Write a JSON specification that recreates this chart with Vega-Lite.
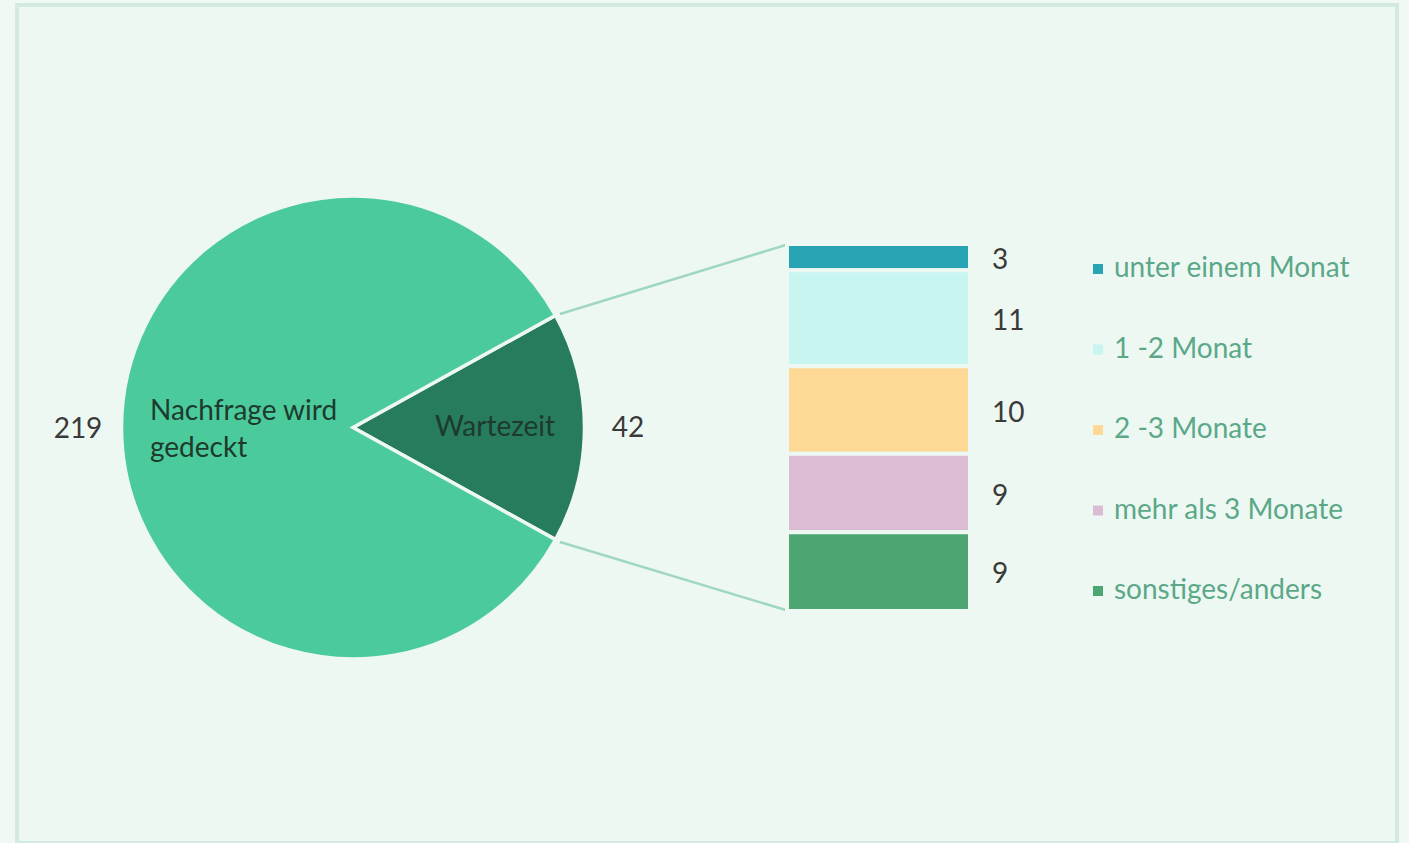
{
  "$schema": "https://vega.github.io/schema/vega-lite/v6.json",
  "width": 1380,
  "height": 838,
  "autosize": {"type": "none"},
  "padding": {"left": 17, "top": 5, "right": 12, "bottom": 0},
  "background": "#f1f9f5",
  "datasets": {
    "gesamt": [
      {"gruppe": "Gesamt", "kategorie": "Wartezeit", "beschriftung": "Wartezeit", "anzahl": 42, "nr": 1},
      {"gruppe": "Gesamt", "kategorie": "Nachfrage wird gedeckt", "beschriftung": "Nachfrage wird\ngedeckt", "anzahl": 219, "nr": 2}
    ],
    "wartezeit": [
      {"gruppe": "Wartezeit", "dauer": "unter einem Monat", "anzahl": 3, "nr": 1},
      {"gruppe": "Wartezeit", "dauer": "1 -2 Monat", "anzahl": 11, "nr": 2},
      {"gruppe": "Wartezeit", "dauer": "2 -3 Monate", "anzahl": 10, "nr": 3},
      {"gruppe": "Wartezeit", "dauer": "mehr als 3 Monate", "anzahl": 9, "nr": 4},
      {"gruppe": "Wartezeit", "dauer": "sonstiges/anders", "anzahl": 9, "nr": 5}
    ]
  },
  "layer": [
    {
      "data": {"name": "gesamt"},
      "transform": [{"filter": "datum.kategorie === 'Wartezeit'"}],
      "mark": {"type": "rule", "color": "#a0d7bf", "strokeWidth": 2.5, "xOffset": 207, "x2Offset": -89.5, "yOffset": -113.5},
      "encoding": {
        "x": {"field": "gruppe", "type": "nominal", "scale": {"type": "point", "domain": ["Gesamt", "Wartezeit"], "range": [336, 861.5], "padding": 0}, "axis": null},
        "x2": {"datum": "Wartezeit"},
        "y": {"datum": 21, "type": "quantitative", "scale": {"domain": [0, 42], "range": [606, 239], "nice": false, "zero": false}, "axis": null},
        "y2": {"datum": 42}
      }
    },
    {
      "data": {"name": "gesamt"},
      "transform": [{"filter": "datum.kategorie === 'Wartezeit'"}],
      "mark": {"type": "rule", "color": "#a0d7bf", "strokeWidth": 2.5, "xOffset": 207, "x2Offset": -89.5, "yOffset": 114.5},
      "encoding": {
        "x": {"field": "gruppe", "type": "nominal", "scale": {"type": "point", "domain": ["Gesamt", "Wartezeit"], "range": [336, 861.5], "padding": 0}, "axis": null},
        "x2": {"datum": "Wartezeit"},
        "y": {"datum": 21, "type": "quantitative", "scale": {"domain": [0, 42], "range": [606, 239], "nice": false, "zero": false}, "axis": null},
        "y2": {"datum": 0}
      }
    },
    {
      "data": {"name": "gesamt"},
      "mark": {"type": "arc", "outerRadius": 231.5, "stroke": "#eef8f2", "strokeWidth": 3.5},
      "encoding": {
        "x": {"field": "gruppe", "type": "nominal", "scale": {"type": "point", "domain": ["Gesamt", "Wartezeit"], "range": [336, 861.5], "padding": 0}, "axis": null},
        "y": {"datum": 21, "type": "quantitative", "scale": {"domain": [0, 42], "range": [606, 239], "nice": false, "zero": false}, "axis": null},
        "theta": {"field": "anzahl", "type": "quantitative", "stack": true, "scale": {"range": [1.06525, 7.34844], "nice": false, "zero": true}},
        "order": {"field": "nr", "type": "quantitative", "sort": "ascending"},
        "color": {"field": "kategorie", "type": "nominal", "scale": {"domain": ["Nachfrage wird gedeckt", "Wartezeit"], "range": ["#4bca9c", "#267c5c"]}, "legend": null}
      }
    },
    {
      "data": {"name": "gesamt"},
      "mark": {"type": "text", "radius": 275, "fontSize": 28, "font": "Lato", "color": "#3a3a3a", "align": "center", "baseline": "middle", "dy": 2},
      "encoding": {
        "x": {"field": "gruppe", "type": "nominal", "scale": {"type": "point", "domain": ["Gesamt", "Wartezeit"], "range": [336, 861.5], "padding": 0}, "axis": null},
        "y": {"datum": 21, "type": "quantitative", "scale": {"domain": [0, 42], "range": [606, 239], "nice": false, "zero": false}, "axis": null},
        "theta": {"field": "anzahl", "type": "quantitative", "stack": true, "scale": {"range": [1.06525, 7.34844], "nice": false, "zero": true}},
        "order": {"field": "nr", "type": "quantitative", "sort": "ascending"},
        "detail": {"field": "kategorie", "type": "nominal"},
        "text": {"field": "anzahl", "type": "quantitative"}
      }
    },
    {
      "data": {"name": "gesamt"},
      "mark": {"type": "text", "radius": 142, "fontSize": 28, "font": "Lato", "color": "#1d3a2d", "align": "center", "baseline": "middle", "dy": 1},
      "encoding": {
        "x": {"field": "gruppe", "type": "nominal", "scale": {"type": "point", "domain": ["Gesamt", "Wartezeit"], "range": [336, 861.5], "padding": 0}, "axis": null},
        "y": {"datum": 21, "type": "quantitative", "scale": {"domain": [0, 42], "range": [606, 239], "nice": false, "zero": false}, "axis": null},
        "theta": {"field": "anzahl", "type": "quantitative", "stack": true, "scale": {"range": [1.06525, 7.34844], "nice": false, "zero": true}},
        "order": {"field": "nr", "type": "quantitative", "sort": "ascending"},
        "detail": {"field": "kategorie", "type": "nominal"},
        "text": {"condition": {"test": "datum.kategorie === 'Wartezeit'", "field": "beschriftung"}, "value": ""}
      }
    },
    {
      "data": {"name": "gesamt"},
      "mark": {"type": "text", "radius": 203, "fontSize": 28, "font": "Lato", "color": "#1d3a2d", "align": "left", "baseline": "middle", "lineBreak": "\n", "lineHeight": 37, "dy": -16},
      "encoding": {
        "x": {"field": "gruppe", "type": "nominal", "scale": {"type": "point", "domain": ["Gesamt", "Wartezeit"], "range": [336, 861.5], "padding": 0}, "axis": null},
        "y": {"datum": 21, "type": "quantitative", "scale": {"domain": [0, 42], "range": [606, 239], "nice": false, "zero": false}, "axis": null},
        "theta": {"field": "anzahl", "type": "quantitative", "stack": true, "scale": {"range": [1.06525, 7.34844], "nice": false, "zero": true}},
        "order": {"field": "nr", "type": "quantitative", "sort": "ascending"},
        "detail": {"field": "kategorie", "type": "nominal"},
        "text": {"condition": {"test": "datum.kategorie === 'Nachfrage wird gedeckt'", "field": "beschriftung"}, "value": ""}
      }
    },
    {
      "data": {"name": "wartezeit"},
      "mark": {"type": "bar", "width": 183, "stroke": "#eef8f2", "strokeWidth": 4},
      "encoding": {
        "x": {"field": "gruppe", "type": "nominal", "scale": {"type": "point", "domain": ["Gesamt", "Wartezeit"], "range": [336, 861.5], "padding": 0}, "axis": null},
        "y": {"field": "anzahl", "type": "quantitative", "stack": "zero", "scale": {"domain": [0, 42], "range": [606, 239], "nice": false, "zero": false}, "axis": null},
        "order": {"field": "nr", "type": "quantitative", "sort": "descending"},
        "color": {
          "field": "dauer",
          "type": "nominal",
          "scale": {
            "domain": ["unter einem Monat", "1 -2 Monat", "2 -3 Monate", "mehr als 3 Monate", "sonstiges/anders"],
            "range": ["#28a4b4", "#c8f5f0", "#fdd995", "#dcbcd5", "#4da672"]
          },
          "legend": {
            "orient": "none",
            "legendX": 1067,
            "legendY": 250,
            "title": null,
            "padding": 0,
            "symbolType": "square",
            "symbolSize": 100,
            "symbolStrokeWidth": 0,
            "symbolOffset": 0,
            "labelFont": "Lato",
            "labelFontSize": 28,
            "labelColor": "#5ba888",
            "labelOffset": 2,
            "labelLimit": 500,
            "rowPadding": 52.5
          }
        }
      }
    },
    {
      "data": {"name": "wartezeit"},
      "mark": {"type": "text", "align": "left", "baseline": "middle", "dx": 113.5, "dy": 3.5, "fontSize": 28, "font": "Lato", "color": "#3a3a3a"},
      "encoding": {
        "x": {"field": "gruppe", "type": "nominal", "scale": {"type": "point", "domain": ["Gesamt", "Wartezeit"], "range": [336, 861.5], "padding": 0}, "axis": null},
        "y": {"field": "anzahl", "type": "quantitative", "stack": "zero", "bandPosition": 0.5, "scale": {"domain": [0, 42], "range": [606, 239], "nice": false, "zero": false}, "axis": null},
        "order": {"field": "nr", "type": "quantitative", "sort": "descending"},
        "detail": {"field": "dauer", "type": "nominal"},
        "text": {"field": "anzahl", "type": "quantitative"}
      }
    }
  ],
  "resolve": {"scale": {"color": "independent"}},
  "config": {
    "font": "Lato",
    "view": {"fill": "#eef8f2", "stroke": "#d2eae0", "strokeWidth": 4}
  }
}
